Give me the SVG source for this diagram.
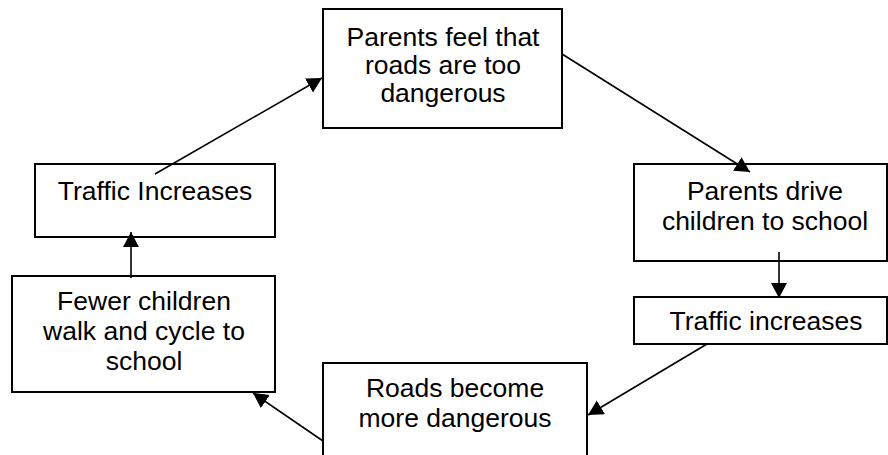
<svg xmlns="http://www.w3.org/2000/svg" width="888" height="455" viewBox="0 0 888 455">
<style>
.box{fill:#fff;stroke:#000;stroke-width:2}
.t{font-family:"Liberation Sans",Arial,sans-serif;font-size:26.5px;fill:#000;text-anchor:middle}
.c{stroke:#000;stroke-width:1.6;fill:none;marker-end:url(#ah)}
</style>
<defs>
<marker id="ah" markerUnits="userSpaceOnUse" markerWidth="17" markerHeight="17" refX="15" refY="8" orient="auto">
<path d="M0,0 L15,8 L0,16 Z" fill="#000"/>
</marker>
</defs>
<rect width="888" height="455" fill="#fff"/>
<g id="n1"><rect class="box" x="323" y="9" width="239" height="119"/>
<text class="t" x="443" y="46">Parents feel that</text>
<text class="t" x="443" y="74">roads are too</text>
<text class="t" x="443" y="102">dangerous</text></g>
<g id="n2"><rect class="box" x="634" y="164" width="253" height="97"/>
<text class="t" x="765" y="200">Parents drive</text>
<text class="t" x="765" y="230">children to school</text></g>
<g id="n3"><rect class="box" x="634" y="297" width="253" height="47"/>
<text class="t" x="766" y="330">Traffic increases</text></g>
<g id="n4"><rect class="box" x="323" y="363" width="264" height="100"/>
<text class="t" x="455" y="397">Roads become</text>
<text class="t" x="455" y="427">more dangerous</text></g>
<g id="n5"><rect class="box" x="12" y="276" width="263" height="116"/>
<text class="t" x="144" y="310">Fewer children</text>
<text class="t" x="144" y="340">walk and cycle to</text>
<text class="t" x="144" y="370">school</text></g>
<g id="n6"><rect class="box" x="35" y="164" width="240" height="73"/>
<text class="t" x="155" y="200">Traffic Increases</text></g>
<g id="connectors">
<line class="c" x1="562" y1="54" x2="750" y2="172"/>
<line class="c" x1="779" y1="252" x2="779" y2="298"/>
<line class="c" x1="707" y1="344" x2="588" y2="415"/>
<line class="c" x1="323" y1="441" x2="253" y2="393"/>
<line class="c" x1="131" y1="278" x2="131" y2="232"/>
<line class="c" x1="155" y1="174" x2="322" y2="78"/>
</g>
</svg>
